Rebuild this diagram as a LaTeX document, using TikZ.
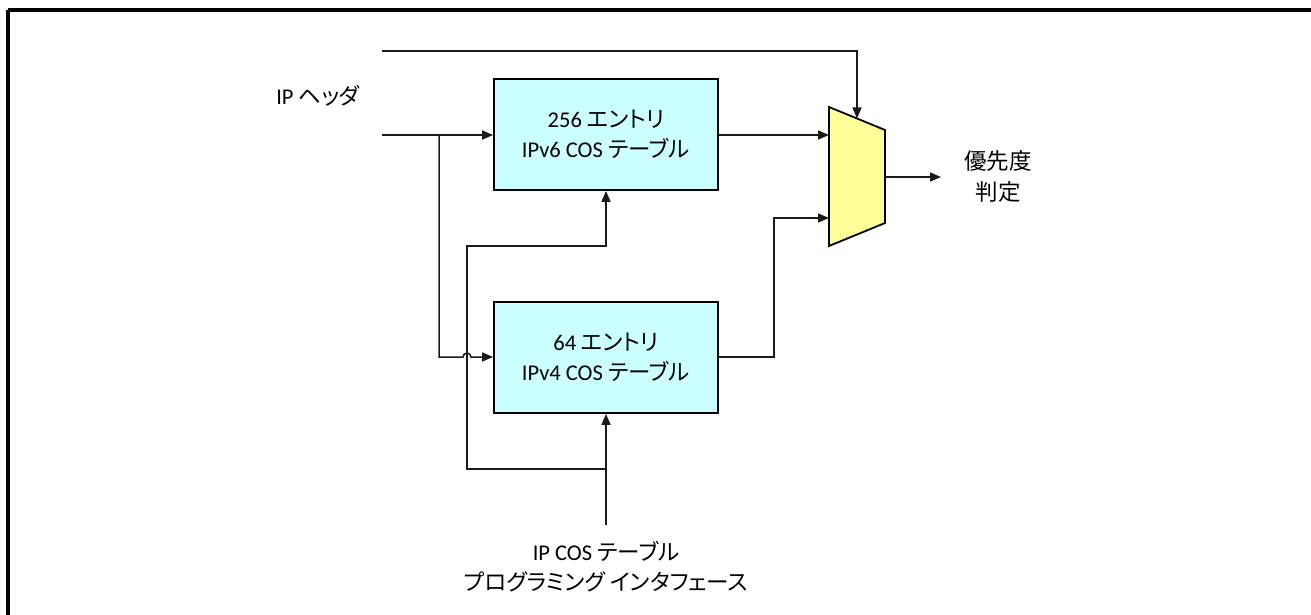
\documentclass[tikz,border=0pt]{standalone}
\usepackage{fontspec}
\setmainfont{Carlito}
\newfontfamily\jp{Noto Sans CJK JP}[RawFeature=+palt]
\usetikzlibrary{arrows.meta}
\definecolor{boxcyan}{HTML}{CCFFFF}
\definecolor{muxyellow}{HTML}{FFFF99}
\definecolor{linegray}{HTML}{1A1A1A}
\begin{document}
\begin{tikzpicture}[x=1pt,y=-1pt,
  line width=1.5pt,
  conn/.style={draw=linegray,line width=1.5pt},
  arr/.style={conn,-{Triangle[length=11pt,width=9pt]}},
  tablebox/.style={draw=black,fill=boxcyan,line width=1.8pt,minimum width=224pt,minimum height=111pt,align=center,inner sep=0pt,font=\fontsize{22.5}{30}\selectfont},
  lbl/.style={align=center,inner sep=0pt,font=\fontsize{22.5}{30}\selectfont}]
\useasboundingbox (0,0) rectangle (1311,615);
% frame (top and left only)
\draw[line width=3.2pt] (8,10) -- (1311,10);
\draw[line width=3.2pt] (8,10) -- (8,615);
% tables
\node[tablebox] (t6) at (606,134.5) {256 {\jp エントリ}\\IPv6 COS {\jp テーブル}};
\node[tablebox] (t4) at (606,357.5) {64 {\jp エントリ}\\IPv4 COS {\jp テーブル}};
% mux
\draw[fill=muxyellow,line width=1.8pt] (829,107) -- (885,130) -- (885,223) -- (829,246) -- cycle;
\coordinate (mtop) at (857,118.5);
\coordinate (min1) at (829,135);
\coordinate (min2) at (829,218);
\coordinate (mout) at (885,177);
% labels
\node[lbl] (hdr) at (318,96) {IP {\jp ヘッダ}};
\node[lbl,font=\jp\fontsize{22.5}{31}\selectfont] (prio) at (998,177) {優先度\\判定};
\node[lbl] (prog) at (606,567) {IP COS {\jp テーブル}\\{\jp プログラミング インタフェース}};
% free ends
\coordinate (topin) at (382,51);
\coordinate (hin) at (382,135);
\coordinate (pin) at (606,525);
\coordinate (oend) at (941,177);
\coordinate (br1) at (439,135);
\coordinate (br2) at (606,469);
% connectors
\draw[arr] (topin) -- (857,51) -- (mtop);
\draw[arr] (hin) -- (t6.west |- hin);
\draw[arr] (br1) -- (439,357) -- (463,357) arc[start angle=180,end angle=360,radius=4] -- (t4.west |- 0,357);
\draw[arr] (t6.east |- min1) -- (min1);
\draw[arr] (t4.east |- 0,357) -- (774,357) -- (774,218) -- (min2);
\draw[arr] (pin) -- (t4.south);
\draw[arr] (br2) -- (467,469) -- (467,246) -- (606,246) -- (t6.south);
\draw[arr] (mout) -- (oend);
\end{tikzpicture}
\end{document}
